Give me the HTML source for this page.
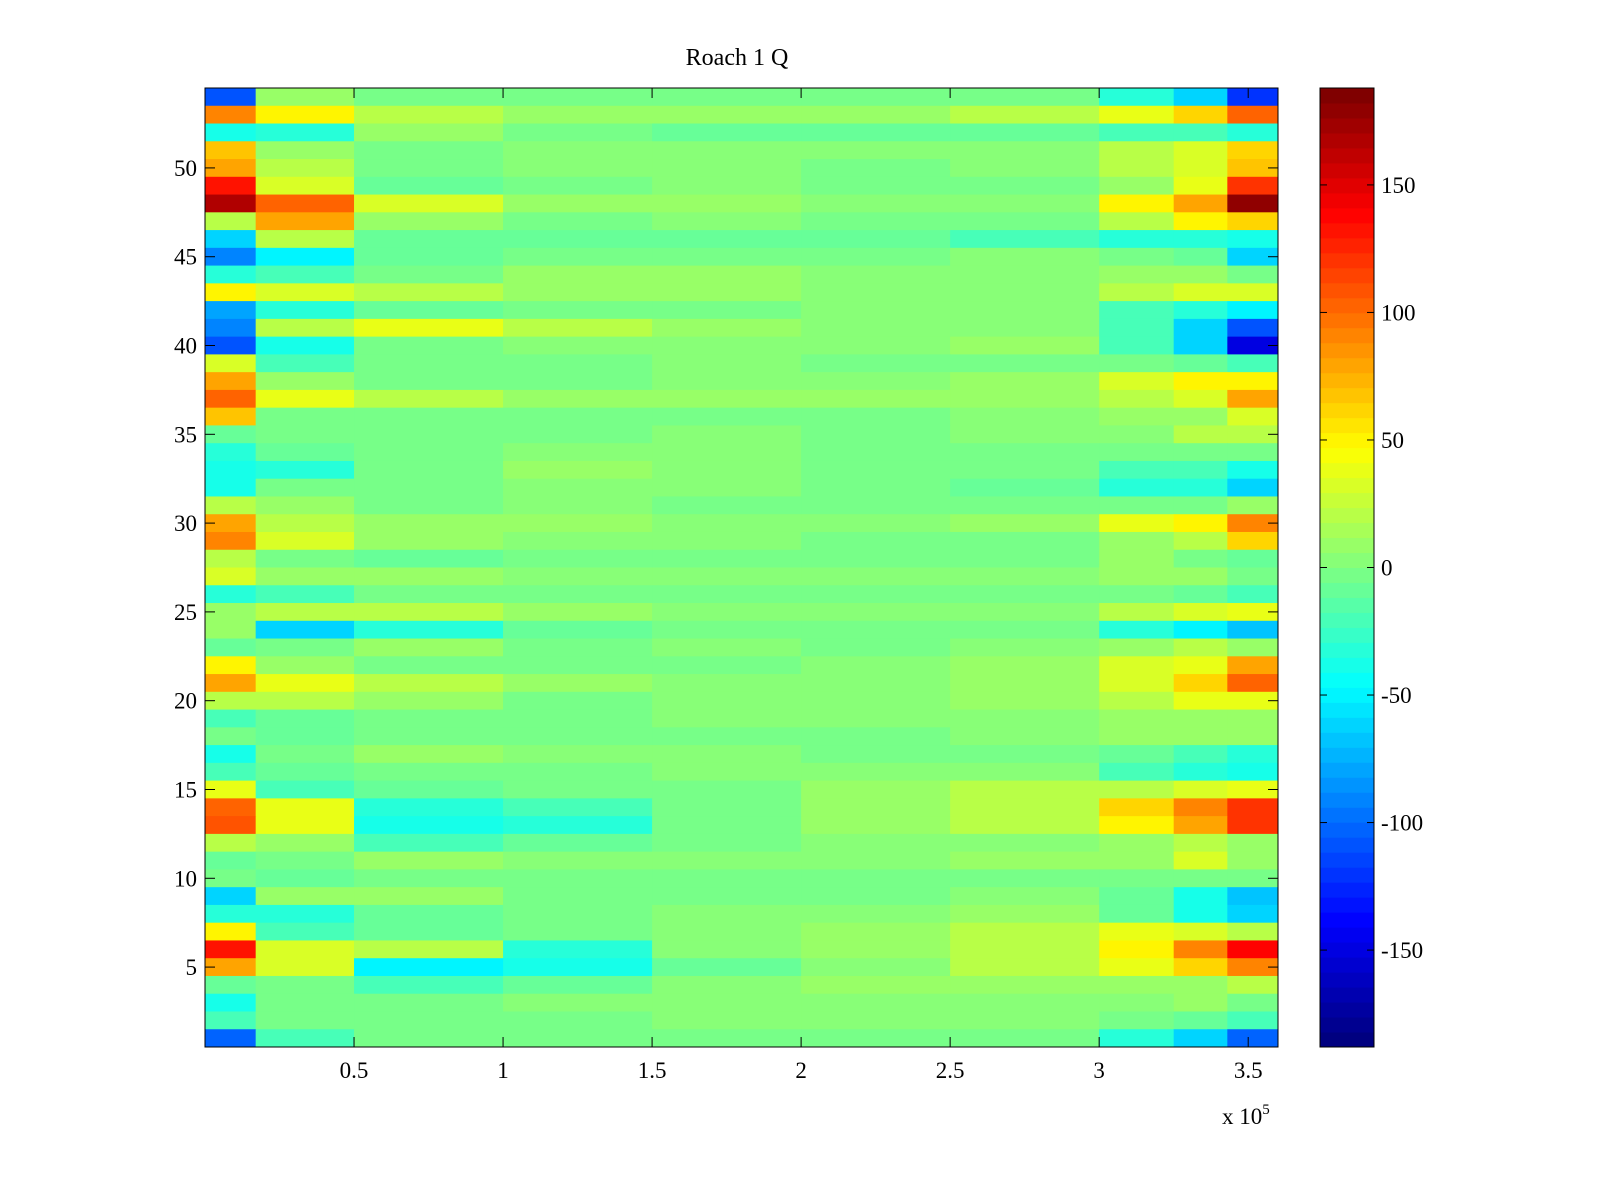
<!DOCTYPE html>
<html><head><meta charset="utf-8"><style>
body{margin:0;background:#fff;}
svg{display:block;font-family:"Liberation Serif",serif;}
</style></head><body>
<svg id="chart" width="1600" height="1200" viewBox="0 0 1600 1200"></svg>
<script>
// x segment edges (x1e5), rows 54..1 (top to bottom), 10 segments each
const segEdges = [0, 0.17, 0.5, 1.0, 1.5, 2.0, 2.5, 3.0, 3.25, 3.43, 3.6];
const rowIds = [54,53,52,51,50,49,48,47,46,45,44,43,42,41,40,39,38,37,36,35,34,33,32,31,30,29,28,27,26,25,24,23,22,21,20,19,18,17,16,15,14,13,12,11,10,9,8,7,6,5,4,3,2,1];
const values = [
[-110,10,0,-5,0,0,-5,-30,-60,-120],
[90,50,20,10,10,10,20,40,60,100],
[-40,-30,10,0,-10,-10,-10,-20,-20,-30],
[70,10,0,5,5,5,5,20,30,60],
[80,20,0,5,5,0,5,20,30,70],
[130,30,-10,0,5,0,-5,10,40,120],
[170,100,30,10,10,5,5,50,80,180],
[20,80,10,0,5,0,0,20,50,60],
[-60,20,-10,-10,-10,-10,-20,-30,-30,-40],
[-90,-50,-10,0,0,0,5,0,-10,-60],
[-30,-20,0,10,10,5,5,10,10,0],
[50,30,20,10,10,5,5,20,30,30],
[-80,-30,-10,0,0,5,5,-20,-30,-50],
[-90,20,40,20,10,5,5,-20,-60,-110],
[-110,-40,0,5,5,5,10,-20,-60,-150],
[30,-20,0,0,5,0,0,0,-10,-20],
[80,10,0,0,5,5,10,30,50,50],
[100,40,20,10,10,10,10,20,30,80],
[70,0,0,0,0,0,5,10,10,30],
[-10,0,-5,0,5,0,5,5,20,20],
[-30,-10,0,5,5,0,0,0,0,0],
[-40,-30,0,10,5,0,-5,-20,-20,-40],
[-40,0,0,5,5,0,-10,-30,-30,-60],
[20,10,0,5,0,0,0,0,0,10],
[80,20,10,10,5,5,10,40,50,90],
[90,30,10,5,5,0,0,10,20,60],
[20,0,-10,0,0,0,0,10,0,-10],
[30,10,10,5,5,5,5,10,10,0],
[-30,-20,0,0,0,0,0,-5,-10,-20],
[10,20,20,10,5,5,5,20,30,40],
[10,-60,-30,-10,0,0,0,-30,-50,-70],
[-10,0,10,0,5,0,5,10,20,10],
[50,10,0,0,0,5,10,30,40,80],
[80,40,20,10,5,5,10,30,60,100],
[20,20,10,0,5,5,10,20,40,40],
[-20,-10,0,0,5,5,5,10,10,10],
[0,-10,0,0,0,0,5,10,10,10],
[-40,0,10,5,5,0,-5,-10,-20,-30],
[-20,-10,0,0,5,5,5,-20,-30,-40],
[40,-20,-10,0,0,10,20,20,30,40],
[100,40,-30,-20,0,10,20,60,90,120],
[110,40,-40,-30,0,10,20,50,80,120],
[20,10,-20,-10,0,5,5,10,20,10],
[-10,0,10,5,5,5,10,10,30,10],
[0,-10,0,0,0,0,0,0,0,0],
[-60,10,10,0,0,0,5,-10,-40,-70],
[-30,-30,-10,0,5,5,10,-10,-40,-60],
[50,-20,-10,0,5,10,20,40,30,20],
[130,30,20,-30,5,10,20,50,90,140],
[80,30,-50,-40,-10,5,20,40,60,90],
[-10,0,-20,-10,5,10,10,10,10,20],
[-40,0,0,5,5,5,5,5,10,0],
[-20,0,0,0,5,5,5,0,-10,-20],
[-100,-20,0,0,0,0,0,-30,-60,-100]
];
const xTicks = [0.5,1,1.5,2,2.5,3,3.5];
const xTickLabels = ["0.5","1","1.5","2","2.5","3","3.5"];
const yTicks = [5,10,15,20,25,30,35,40,45,50];
const cbTicks = [150,100,50,0,-50,-100,-150];

const NS="http://www.w3.org/2000/svg";
const svg=document.getElementById('chart');
function el(t,a,p){const e=document.createElementNS(NS,t);for(const k in a)e.setAttribute(k,a[k]);(p||svg).appendChild(e);return e;}
const L=205,R=1278,T=88,B=1047;
const xMin=0,xMax=3.6,yMin=0.5,yMax=54.5,cMin=-188,cMax=188;
const xs=v=>L+(v-xMin)/(xMax-xMin)*(R-L);
const ys=v=>B-(v-yMin)/(yMax-yMin)*(B-T);
function jet(v){
  let t=(v-cMin)/(cMax-cMin);t=Math.max(0,Math.min(1,t));
  t=Math.floor(t*63.999)/63;
  const f=x=>Math.max(0,Math.min(1,1.5-Math.abs(4*t-x)));
  return `rgb(${Math.round(255*f(3))},${Math.round(255*f(2))},${Math.round(255*f(1))})`;
}
const cells=el('g',{});


rowIds.forEach((r,i)=>{
  values[i].forEach((v,j)=>{
    const x0=xs(segEdges[j]),x1=xs(segEdges[j+1]);
    const y0=ys(r+0.5),y1=ys(r-0.5);
    const c=el('rect',{x:x0,y:y0,width:x1-x0+0.5,height:y1-y0+0.5,fill:jet(v)},cells);
    
    
  });
});
const ax=el('rect',{x:L,y:T,width:R-L,height:B-T,fill:'none',stroke:'#000','stroke-width':1});


xTicks.forEach((v,i)=>{
  const x=xs(v);
  el('line',{x1:x,y1:B,x2:x,y2:B-10,stroke:'#000'});
  el('line',{x1:x,y1:T,x2:x,y2:T+10,stroke:'#000'});
  const t=el('text',{x:x,y:B+31,'text-anchor':'middle','font-size':23});
  t.textContent=xTickLabels[i];
  
  
});
yTicks.forEach(v=>{
  const y=ys(v);
  el('line',{x1:L,y1:y,x2:L+10,y2:y,stroke:'#000'});
  el('line',{x1:R,y1:y,x2:R-10,y2:y,stroke:'#000'});
  const t=el('text',{x:L-8,y:y+8,'text-anchor':'end','font-size':23});
  t.textContent=v;
  
  
});
// colorbar
const CL=1320,CR=1374;
const cs=v=>B-(v-cMin)/(cMax-cMin)*(B-T);
const cb=el('g',{});


for(let k=0;k<64;k++){
  const v0=cMin+k*(cMax-cMin)/64,v1=cMin+(k+1)*(cMax-cMin)/64;
  el('rect',{x:CL,y:cs(v1),width:CR-CL,height:cs(v0)-cs(v1)+0.5,fill:jet((v0+v1)/2)},cb);
}
el('rect',{x:CL,y:T,width:CR-CL,height:B-T,fill:'none',stroke:'#000'},cb);
cbTicks.forEach(v=>{
  const y=cs(v);
  el('line',{x1:CL,y1:y,x2:CL+7,y2:y,stroke:'#000'},cb);
  el('line',{x1:CR,y1:y,x2:CR-7,y2:y,stroke:'#000'},cb);
  const t=el('text',{x:1381,y:y+8,'font-size':23},cb);
  t.textContent=v;
  
  
});
const title=el('text',{x:737,y:65,'text-anchor':'middle','font-size':24});
title.textContent='Roach 1 Q';


const ex=el('text',{x:1222,y:1124,'font-size':23});
ex.innerHTML='x 10<tspan dy="-10" font-size="15">5</tspan>';


</script>
</body></html>
